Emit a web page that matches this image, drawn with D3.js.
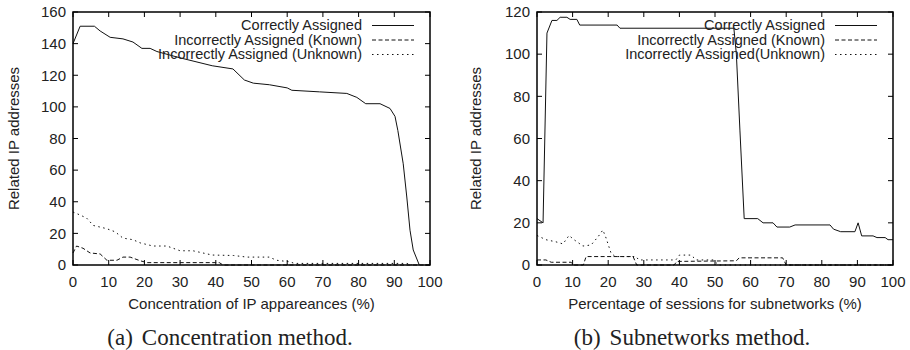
<!DOCTYPE html>
<html>
<head>
<meta charset="utf-8">
<script src="https://cdn.jsdelivr.net/npm/d3@7"></script>
<style>
body { margin: 0; background: #fff; }
svg { display: block; }
.tick-label { font-family: "Liberation Sans", Arial, sans-serif; font-size: 15px; fill: #222; }
.axis-title { font-family: "Liberation Sans", Arial, sans-serif; font-size: 15px; fill: #222; }
.legend { font-family: "Liberation Sans", Arial, sans-serif; font-size: 14.5px; fill: #222; }
.caption { font-family: "Liberation Serif", "DejaVu Serif", serif; font-size: 23px; fill: #222; }
</style>
</head>
<body>
<svg id="chart" width="910" height="350"></svg>
<script>
// ---- data ----
var xTicks = [0, 10, 20, 30, 40, 50, 60, 70, 80, 90, 100];
var concYTicks = [0, 20, 40, 60, 80, 100, 120, 140, 160];
var subYTicks = [0, 20, 40, 60, 80, 100, 120];

var concCorrect = [[0,140],[2,151],[6,151],[7.6,148],[10.4,144],[14,143],[16.8,141],[19.3,137],[21.6,137],[23.5,135],[30,131],[39,126],[44.8,124],[48,117],[50.5,115],[55,114],[60,112],[61.3,110.5],[69,109.5],[76.7,108.5],[79.5,106],[82,102],[86,102],[88.8,99],[90.2,94],[91,85],[92.5,64],[93.5,43],[94.4,22],[95.3,9.5],[97,0]];
var concKnown = [[0,7.6],[1,12],[2.8,10.6],[4.8,7.6],[7.6,7],[9.5,3],[12.3,3],[14,5],[16,5],[18.8,2.7],[20.7,1.5],[41,1.5],[42,0],[100,0]];
var concUnknown = [[0,33.5],[2,31.6],[3.8,29.7],[5.7,25],[9.4,23],[11.8,21],[14,17],[16.8,16],[18.8,14],[22.4,12],[26.3,12],[30,9],[33.6,9],[39,6.3],[45,6],[48.7,5],[55,5],[57,3],[60.8,2],[62,1],[93.5,1],[95,0]];

var subCorrect = [[0,22],[1.7,20],[2.8,110],[4.2,116],[5.6,116],[6.5,117.5],[8.4,117.5],[9.3,116.5],[11.2,116.5],[12,113.8],[22.5,113.8],[23.3,112.3],[55.3,112.3],[56,100],[57,64],[58.2,22],[62,22],[63.5,20],[66.3,20],[67.4,18],[71,18],[72.5,19],[82.3,19],[83.3,17],[85.3,15.8],[89.3,15.8],[90.2,20],[91.2,13.8],[94.4,13.8],[95.5,13],[97.8,13],[98.6,12],[100,12]];
var subKnown = [[0,2.4],[2.5,2.4],[4,1.3],[9.6,1.3],[10.2,0],[13,0],[13.8,4],[27,4],[28,0],[38.5,0],[39.3,1.7],[56,2],[56.8,3.4],[69,3.4],[70,0],[100,0]];
var subUnknown = [[0,14],[2.5,12],[5.3,11],[7.3,10],[9,14],[10.4,12],[12.9,9],[15.2,9.5],[17.2,13.5],[18.5,16.6],[19.4,12.8],[20.8,5.6],[22,4],[27.8,4],[28.6,2.4],[39,2.4],[40,4.7],[43.3,4.7],[44.7,2.4],[49.5,2.4],[51,0],[100,0]];

var concLabels = ["Correctly Assigned", "Incorrectly Assigned (Known)", "Incorrectly Assigned (Unknown)"];
var subLabels = ["Correctly Assigned", "Incorrectly Assigned (Known)", "Incorrectly Assigned(Unknown)"];

var dashStyles = [null, "4,2.5", "1.5,3.5"];

var svg = d3.select('#chart');

function drawPanel(opt) {
	var x = d3.scaleLinear().domain([0, 100]).range([opt.left, opt.right]);
	var y = d3.scaleLinear().domain([0, opt.yMax]).range([opt.bottom, opt.top]);
	var g = svg.append('g');
	var tickLen = 5;

	// ticks on all four sides, pointing in
	g.selectAll('.xtick-b').data(xTicks).enter().append('line')
		.attr('x1', function(d) { return x(d); }).attr('x2', function(d) { return x(d); })
		.attr('y1', opt.bottom).attr('y2', opt.bottom - tickLen)
		.attr('stroke', '#000').attr('stroke-width', 1);
	g.selectAll('.xtick-t').data(xTicks).enter().append('line')
		.attr('x1', function(d) { return x(d); }).attr('x2', function(d) { return x(d); })
		.attr('y1', opt.top).attr('y2', opt.top + tickLen)
		.attr('stroke', '#000').attr('stroke-width', 1);
	g.selectAll('.ytick-l').data(opt.yTicks).enter().append('line')
		.attr('x1', opt.left).attr('x2', opt.left + tickLen)
		.attr('y1', function(d) { return y(d); }).attr('y2', function(d) { return y(d); })
		.attr('stroke', '#000').attr('stroke-width', 1);
	g.selectAll('.ytick-r').data(opt.yTicks).enter().append('line')
		.attr('x1', opt.right).attr('x2', opt.right - tickLen)
		.attr('y1', function(d) { return y(d); }).attr('y2', function(d) { return y(d); })
		.attr('stroke', '#000').attr('stroke-width', 1);

	// tick labels
	g.selectAll('.xlab').data(xTicks).enter().append('text')
		.attr('class', 'tick-label')
		.attr('x', function(d) { return x(d); })
		.attr('y', opt.bottom + 21.5)
		.attr('text-anchor', 'middle')
		.text(function(d) { return d; });
	g.selectAll('.ylab').data(opt.yTicks).enter().append('text')
		.attr('class', 'tick-label')
		.attr('x', opt.left - 7)
		.attr('y', function(d) { return y(d); })
		.attr('dy', '0.35em')
		.attr('text-anchor', 'end')
		.text(function(d) { return d; });

	// axis titles
	g.append('text')
		.attr('class', 'axis-title')
		.attr('x', (opt.left + opt.right) / 2)
		.attr('y', opt.bottom + 43.5)
		.attr('text-anchor', 'middle')
		.text(opt.xTitle);
	g.append('text')
		.attr('class', 'axis-title')
		.attr('transform', 'translate(' + opt.yTitleX + ',' + (opt.top + opt.bottom) / 2 + ') rotate(-90)')
		.attr('text-anchor', 'middle')
		.attr('dy', '0.35em')
		.text('Related IP addresses');

	// series
	var line = d3.line()
		.x(function(d) { return x(d[0]); })
		.y(function(d) { return y(d[1]); });
	opt.series.forEach(function(s, i) {
		g.append('path')
			.attr('d', line(s))
			.attr('fill', 'none')
			.attr('stroke', '#111')
			.attr('stroke-width', 1)
			.attr('stroke-dasharray', dashStyles[i]);
	});

	// legend
	opt.labels.forEach(function(label, i) {
		var ly = 25 + i * 14.5;
		g.append('text')
			.attr('class', 'legend')
			.attr('x', opt.legendX)
			.attr('y', ly)
			.attr('dy', '0.35em')
			.attr('text-anchor', 'end')
			.text(label);
		g.append('line')
			.attr('x1', opt.legendX + 10).attr('x2', opt.legendX + 52)
			.attr('y1', ly + 0.5).attr('y2', ly + 0.5)
			.attr('stroke', '#111').attr('stroke-width', 1)
			.attr('stroke-dasharray', dashStyles[i]);
	});

	// frame
	g.append('rect')
		.attr('x', opt.left).attr('y', opt.top)
		.attr('width', opt.right - opt.left).attr('height', opt.bottom - opt.top)
		.attr('fill', 'none').attr('stroke', '#000').attr('stroke-width', 1.5);

	// caption
	var cap = g.append('text')
		.attr('class', 'caption')
		.attr('x', opt.captionX)
		.attr('y', 345)
		.attr('text-anchor', 'middle');
	cap.append('tspan').text(opt.captionTag);
	cap.append('tspan').attr('dx', 9).text(opt.caption);
}

drawPanel({
	left: 73, right: 430, top: 12, bottom: 265,
	yMax: 160, yTicks: concYTicks,
	series: [concCorrect, concKnown, concUnknown],
	labels: concLabels,
	legendX: 362,
	xTitle: 'Concentration of IP appareances (%)',
	yTitleX: 14,
	captionX: 230, captionTag: '(a)', caption: 'Concentration method.'
});

drawPanel({
	left: 537, right: 893, top: 12, bottom: 265,
	yMax: 120, yTicks: subYTicks,
	series: [subCorrect, subKnown, subUnknown],
	labels: subLabels,
	legendX: 825,
	xTitle: 'Percentage of sessions for subnetworks (%)',
	yTitleX: 476,
	captionX: 692, captionTag: '(b)', caption: 'Subnetworks method.'
});
</script>
</body>
</html>
